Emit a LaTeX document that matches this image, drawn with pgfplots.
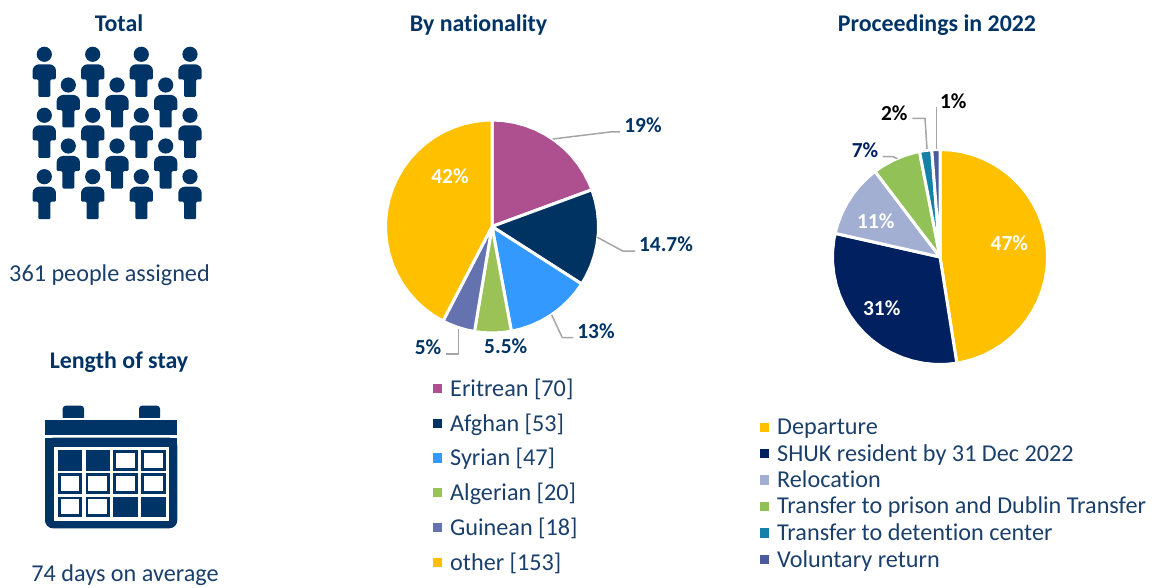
\documentclass[border=0pt]{standalone}
\usepackage{fontspec}
\setmainfont{Carlito}[Ligatures=CommonOff]
\usepackage{pgfplots}
\pgfplotsset{compat=1.18}
\usepgfplotslibrary{polar}
\definecolor{navy}{HTML}{003366}
\definecolor{txt}{HTML}{1A3F6B}
\definecolor{cA}{HTML}{AE4F90}
\definecolor{cB}{HTML}{003361}
\definecolor{cC}{HTML}{3399FF}
\definecolor{cD}{HTML}{9AC257}
\definecolor{cE}{HTML}{6473B0}
\definecolor{cF}{HTML}{FFC000}
\definecolor{dB}{HTML}{002060}
\definecolor{dC}{HTML}{A2AFD3}
\definecolor{dD}{HTML}{92C158}
\definecolor{dE}{HTML}{1580A8}
\definecolor{dF}{HTML}{4A5A9A}
\definecolor{lead}{HTML}{A6A6A6}
\newcommand\person[2]{%
  \fill[navy] (#1,#2) circle (7.6);
  \fill[navy,rounded corners=1.2] (#1-11.6,#2+25) -- (#1-11.6,#2+17)
    .. controls (#1-11.6,#2+12.5) and (#1-8,#2+10) .. (#1-4,#2+10)
    -- (#1+4,#2+10) .. controls (#1+8,#2+10) and (#1+11.6,#2+12.5) .. (#1+11.6,#2+17)
    -- (#1+11.6,#2+25) -- (#1+6,#2+25) -- (#1+6,#2+42.5) -- (#1-6,#2+42.5) -- (#1-6,#2+25) -- cycle;
}
\newcommand\fullcell[2]{\fill[navy] (#1,#2) rectangle ++(24.5,20.5);}
\newcommand\opencell[2]{\fill[navy] (#1,#2) rectangle ++(24.5,20.5);\fill[white] (#1+2.8,#2+2.8) rectangle ++(18.9,14.9);}
\newcommand\lab[3][navy]{\node[font=\fontsize{21.4}{21}\selectfont\bfseries,text=#1,inner sep=0pt] at (#2) {#3};}
\newcommand\leg[3]{\fill[#1] (#2-4.6,#3-4.6) rectangle ++(9.2,9.2);}
\begin{document}
\begin{tikzpicture}
\path[use as bounding box] (0,0) rectangle (1155pt,-588pt);
% By nationality: counts 70, 53, 47, 20, 18, 153 of 361; x = angle, y = radius
\begin{polaraxis}[at={(492pt,-226.5pt)},anchor=center,scale only axis,width=213pt,height=213pt,
  hide axis,ymin=0,ymax=1,clip=false,
  every axis plot/.append style={draw=white,line width=3pt,line join=round}]
\addplot[fill=cA] coordinates {(0,0) (90,1) (84,1) (78,1) (72,1) (66,1) (60,1) (54,1) (48,1) (42,1) (36,1) (30,1) (24,1) (20.2,1)} --cycle;
\addplot[fill=cB] coordinates {(0,0) (20.2,1) (14,1) (8,1) (2,1) (-4,1) (-10,1) (-16,1) (-22,1) (-28,1) (-32.65,1)} --cycle;
\addplot[fill=cC] coordinates {(0,0) (-32.65,1) (-38,1) (-44,1) (-50,1) (-56,1) (-62,1) (-68,1) (-74,1) (-79.52,1)} --cycle;
\addplot[fill=cD] coordinates {(0,0) (-79.52,1) (-85,1) (-90,1) (-95,1) (-99.46,1)} --cycle;
\addplot[fill=cE] coordinates {(0,0) (-99.46,1) (-104,1) (-109,1) (-114,1) (-117.41,1)} --cycle;
\addplot[fill=cF] coordinates {(0,0) (-117.41,1) (-123,1) (-129,1) (-135,1) (-141,1) (-147,1) (-153,1) (-159,1) (-165,1) (-171,1) (-177,1) (-183,1) (-189,1) (-195,1) (-201,1) (-207,1) (-213,1) (-219,1) (-225,1) (-231,1) (-237,1) (-243,1) (-249,1) (-255,1) (-261,1) (-267,1) (-270,1)} --cycle;
\end{polaraxis}
% Proceedings in 2022
\begin{polaraxis}[at={(940pt,-257pt)},anchor=center,scale only axis,width=215pt,height=215pt,
  hide axis,ymin=0,ymax=1,clip=false,
  every axis plot/.append style={draw=white,line width=3pt,line join=round}]
\addplot[fill=cF] coordinates {(0,0) (90,1) (84,1) (78,1) (72,1) (66,1) (60,1) (54,1) (48,1) (42,1) (36,1) (30,1) (24,1) (18,1) (12,1) (6,1) (0,1) (-6,1) (-12,1) (-18,1) (-24,1) (-30,1) (-36,1) (-42,1) (-48,1) (-54,1) (-60,1) (-66,1) (-72,1) (-78,1) (-81,1)} --cycle;
\addplot[fill=dB] coordinates {(0,0) (-81,1) (-87,1) (-93,1) (-99,1) (-105,1) (-111,1) (-117,1) (-123,1) (-129,1) (-135,1) (-141,1) (-147,1) (-153,1) (-159,1) (-165,1) (-171,1) (-177,1) (-183,1) (-189,1) (-192.7,1)} --cycle;
\addplot[fill=dC] coordinates {(0,0) (-192.7,1) (-198,1) (-204,1) (-210,1) (-216,1) (-222,1) (-228,1) (-232.8,1)} --cycle;
\addplot[fill=dD] coordinates {(0,0) (-232.8,1) (-238,1) (-244,1) (-250,1) (-256,1) (-259,1)} --cycle;
\addplot[fill=dE] coordinates {(0,0) (-259,1) (-262,1) (-265.6,1)} --cycle;
\addplot[fill=dF] coordinates {(0,0) (-265.6,1) (-268,1) (-270,1)} --cycle;
\end{polaraxis}
\begin{scope}[x=1pt,y=-1pt]
% headings
\foreach \t/\px/\py in {Total/119/31.5,By nationality/478.5/31.5,Proceedings in 2022/937/31.5,Length of stay/119/368.5}
  \node[font=\fontsize{23.9}{24}\selectfont\bfseries,text=navy,inner sep=0pt,anchor=base] at (\px,\py) {\t};
\node[font=\fontsize{24.2}{24}\selectfont,text=txt,inner sep=0pt,anchor=base] at (109.5,281) {361 people assigned};
\node[font=\fontsize{24.2}{24}\selectfont,text=txt,inner sep=0pt,anchor=base] at (125,581.7) {74 days on average};
% people
\foreach \px in {44.3,92.7,141.3,190} \foreach \py in {54.3,115.3,176.7} {\person{\px}{\py}}
\foreach \px in {68.3,117,165.7} \foreach \py in {85,146} {\person{\px}{\py}}
% calendar
\fill[navy,rounded corners=3] (62.7,405.7) rectangle (84,420);
\fill[navy,rounded corners=3] (139,405.7) rectangle (160,420);
\fill[white] (60,418.4) rectangle (165,420);
\fill[navy] (45,420) rectangle (177.3,435);
\fill[navy,rounded corners=8] (45,437.7) -- (45,528.3) -- (177.3,528.3) -- (177.3,437.7) -- cycle;
\fill[navy] (45,437.7) rectangle (177.3,450);
\fill[white] (54.3,446.7) rectangle (169,520.7);
\fullcell{57.7}{450}\fullcell{85.5}{450}\opencell{113.3}{450}\opencell{141.2}{450}
\opencell{57.7}{473}\opencell{85.5}{473}\opencell{113.3}{473}\opencell{141.2}{473}
\opencell{57.7}{496.5}\opencell{85.5}{496.5}\fullcell{113.3}{496.5}\fullcell{141.2}{496.5}
% pie 1 leaders and labels
\begin{scope}[draw=lead,line width=1.5pt]
\draw (552.7,139) -- (610,132) -- (620,132);
\draw (597.3,237.3) -- (622.7,251) -- (635,251);
\draw (551.7,315) -- (562.3,337.7) -- (573.3,337.7);
\draw (458.3,329.3) -- (458.3,354) -- (446,354);
\draw (882.7,156.7) -- (893.3,156.7) -- (897.3,158.7);
\draw (912.3,118.3) -- (925,118.3) -- (927,149);
\draw (936.7,107.3) -- (936.7,149);
\end{scope}
\lab{643,125.5}{19\%}
\lab{666,244.5}{14.7\%}
\lab{596,331.7}{13\%}
\lab{505.7,346}{5.5\%}
\lab{428,347.7}{5\%}
\lab[white]{450,176.7}{42\%}
\lab[white]{1009.3,243.5}{47\%}
\lab[white]{881.7,308.7}{31\%}
\lab[white]{875.7,221}{11\%}
\lab[dB]{865,150}{7\%}
\lab[black]{894.3,113.5}{2\%}
\lab[black]{953.3,101}{1\%}
% legend 1
\foreach \c/\py/\t in {cA/388.3/Eritrean [70],cB/423.3/Afghan [53],cC/458/Syrian [47],cD/492.7/Algerian [20],cE/527.3/Guinean [18],cF/562.3/other [153]} {
  \leg{\c}{437.4}{\py}
  \node[font=\fontsize{24.2}{24}\selectfont,text=txt,inner sep=0pt,anchor=base west] at (450,\py+7.7) {\t};
}
% legend 2
\foreach \c/\py/\t in {cF/427.3/Departure,dB/453.7/SHUK resident by 31 Dec 2022,dC/480/Relocation,dD/506.3/Transfer to prison and Dublin Transfer,dE/533/Transfer to detention center,dF/559.7/Voluntary return} {
  \leg{\c}{764.8}{\py}
  \node[font=\fontsize{24.2}{24}\selectfont,text=txt,inner sep=0pt,anchor=base west] at (777,\py+7.4) {\t};
}
\end{scope}
\end{tikzpicture}
\end{document}
